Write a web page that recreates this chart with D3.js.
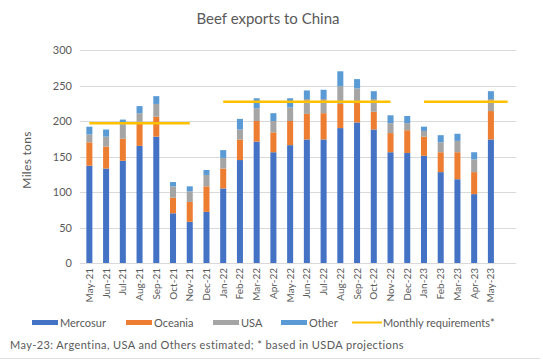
<!DOCTYPE html>
<html>
<head>
<meta charset="utf-8">
<script src="https://cdn.jsdelivr.net/npm/d3@7/dist/d3.min.js"></script>
<style>
    body { margin: 0; background: #fff; }
    svg text { font-family: Lato, "Open Sans", sans-serif; fill: #595959; }
</style>
</head>
<body>
<div id="chart"></div>
<script>
// Beef exports to China - stacked monthly bars plus requirement line

const months = ['May-21', 'Jun-21', 'Jul-21', 'Aug-21', 'Sep-21', 'Oct-21', 'Nov-21', 'Dec-21',
    'Jan-22', 'Feb-22', 'Mar-22', 'Apr-22', 'May-22', 'Jun-22', 'Jul-22', 'Aug-22', 'Sep-22',
    'Oct-22', 'Nov-22', 'Dec-22', 'Jan-23', 'Feb-23', 'Mar-23', 'Apr-23', 'May-23', ''];

const mercosur = [137, 133, 144, 165, 178, 70, 58, 72, 105, 145, 171, 156, 166, 174, 174, 190, 198, 188, 156, 155, 151, 128, 118, 97, 174];
const oceania = [33, 31, 31, 34, 28, 22, 28, 36, 28, 29, 29, 28, 34, 36, 37, 34, 30, 25, 27, 32, 27, 28, 38, 31, 40];
const usa = [11, 14, 20, 12, 18, 16, 15, 16, 15, 14, 18, 16, 19, 21, 20, 25, 18, 18, 14, 10, 8, 14, 16, 18, 17];
const other = [11, 10, 7, 10, 11, 6, 7, 7, 11, 15, 14, 11, 13, 12, 13, 21, 13, 11, 11, 10, 6, 10, 10, 10, 11];

const requirements = [197, 197, 197, 197, 197, 197, 197, null,
    227, 227, 227, 227, 227, 227, 227, 227, 227, 227, 227, null,
    227, 227, 227, 227, 227, 227];

const yTicks = [0, 50, 100, 150, 200, 250, 300];

const series = [
    { key: 'Mercosur', values: mercosur, color: '#4472C4' },
    { key: 'Oceania', values: oceania, color: '#ED7D31' },
    { key: 'USA', values: usa, color: '#A5A5A5' },
    { key: 'Other', values: other, color: '#5B9BD5' }
];
const lineColor = '#FFC000';

const width = 543, height = 362;

const svg = d3.select('#chart')
    .append('svg')
    .attr('width', width)
    .attr('height', height);

const x = d3.scaleBand()
    .domain(months)
    .range([81, 516])
    .paddingInner(0.64)
    .paddingOuter(0.32);

const y = d3.scaleLinear()
    .domain([0, 300])
    .range([263, 50]);

// rows for the stack
const rows = mercosur.map((m, i) => {
    const row = { month: months[i] };
    series.forEach(s => { row[s.key] = s.values[i]; });
    return row;
});

const stacked = d3.stack().keys(series.map(s => s.key))(rows);

// gridlines
svg.append('g')
    .selectAll('line')
    .data(yTicks)
    .join('line')
    .attr('x1', 80)
    .attr('x2', 516)
    .attr('y1', d => Math.round(y(d)) + 0.5)
    .attr('y2', d => Math.round(y(d)) + 0.5)
    .attr('stroke', '#d9d9d9')
    .attr('stroke-width', 1);

// y axis labels
const yAxis = svg.append('g')
    .attr('transform', 'translate(72,0)')
    .call(d3.axisLeft(y).tickValues(yTicks).tickSize(0).tickPadding(0));
yAxis.select('.domain').remove();
yAxis.selectAll('text')
    .style('font-size', '11px')
    .style('font-family', 'Lato, sans-serif')
    .attr('fill', '#595959');

// bars
svg.append('g')
    .selectAll('g')
    .data(stacked)
    .join('g')
    .attr('fill', (d, i) => series[i].color)
    .selectAll('rect')
    .data(d => d)
    .join('rect')
    .attr('x', d => x(d.data.month))
    .attr('width', x.bandwidth())
    .attr('y', d => y(d[1]))
    .attr('height', d => y(d[0]) - y(d[1]));

// monthly requirements line
const line = d3.line()
    .defined(d => d != null)
    .x((d, i) => x(months[i]) + x.bandwidth() / 2)
    .y(d => y(d));

svg.append('path')
    .datum(requirements)
    .attr('fill', 'none')
    .attr('stroke', lineColor)
    .attr('stroke-width', 2.5)
    .attr('d', line);

// x axis labels
const xAxis = svg.append('g')
    .attr('transform', 'translate(0,263)')
    .call(d3.axisBottom(x).tickSize(0).tickPadding(0));
xAxis.select('.domain').remove();
xAxis.selectAll('text')
    .attr('transform', 'rotate(-90)')
    .attr('x', -5)
    .attr('y', 0)
    .attr('dy', '0.35em')
    .attr('text-anchor', 'end')
    .style('font-size', '10px')
    .style('font-family', 'Lato, sans-serif')
    .attr('fill', '#595959');

// title
svg.append('text')
    .attr('x', 268)
    .attr('y', 24)
    .attr('text-anchor', 'middle')
    .style('font-size', '15px')
    .text('Beef exports to China');

// y axis title
svg.append('text')
    .attr('transform', 'translate(31,160) rotate(-90)')
    .attr('text-anchor', 'middle')
    .style('font-size', '12px')
    .style('letter-spacing', '0.3px')
    .text('Miles tons');

// legend
const legendItems = [
    { label: 'Mercosur', color: series[0].color, x: 32, type: 'rect' },
    { label: 'Oceania', color: series[1].color, x: 126, type: 'rect' },
    { label: 'USA', color: series[2].color, x: 213, type: 'rect' },
    { label: 'Other', color: series[3].color, x: 281, type: 'rect' },
    { label: 'Monthly requirements*', color: lineColor, x: 352, type: 'line' }
];

const legend = svg.append('g');
legendItems.forEach(item => {
    if (item.type === 'rect') {
        legend.append('rect')
            .attr('x', item.x)
            .attr('y', 320)
            .attr('width', 26)
            .attr('height', 5)
            .attr('fill', item.color);
    } else {
        legend.append('line')
            .attr('x1', item.x)
            .attr('x2', item.x + 30)
            .attr('y1', 322.5)
            .attr('y2', 322.5)
            .attr('stroke', item.color)
            .attr('stroke-width', 2);
    }
    legend.append('text')
        .attr('x', item.x + (item.type === 'rect' ? 28 : 31))
        .attr('y', 326.5)
        .style('font-size', '11px')
        .text(item.label);
});

// footnote
svg.append('text')
    .attr('x', 10)
    .attr('y', 349)
    .style('font-size', '11px')
    .style('letter-spacing', '0.4px')
    .text('May-23: Argentina, USA and Others estimated; * based in USDA projections');

svg.append('line')
    .attr('x1', 0)
    .attr('x2', 540)
    .attr('y1', 358.5)
    .attr('y2', 358.5)
    .attr('stroke', '#e0e0e0');
</script>
</body>
</html>
